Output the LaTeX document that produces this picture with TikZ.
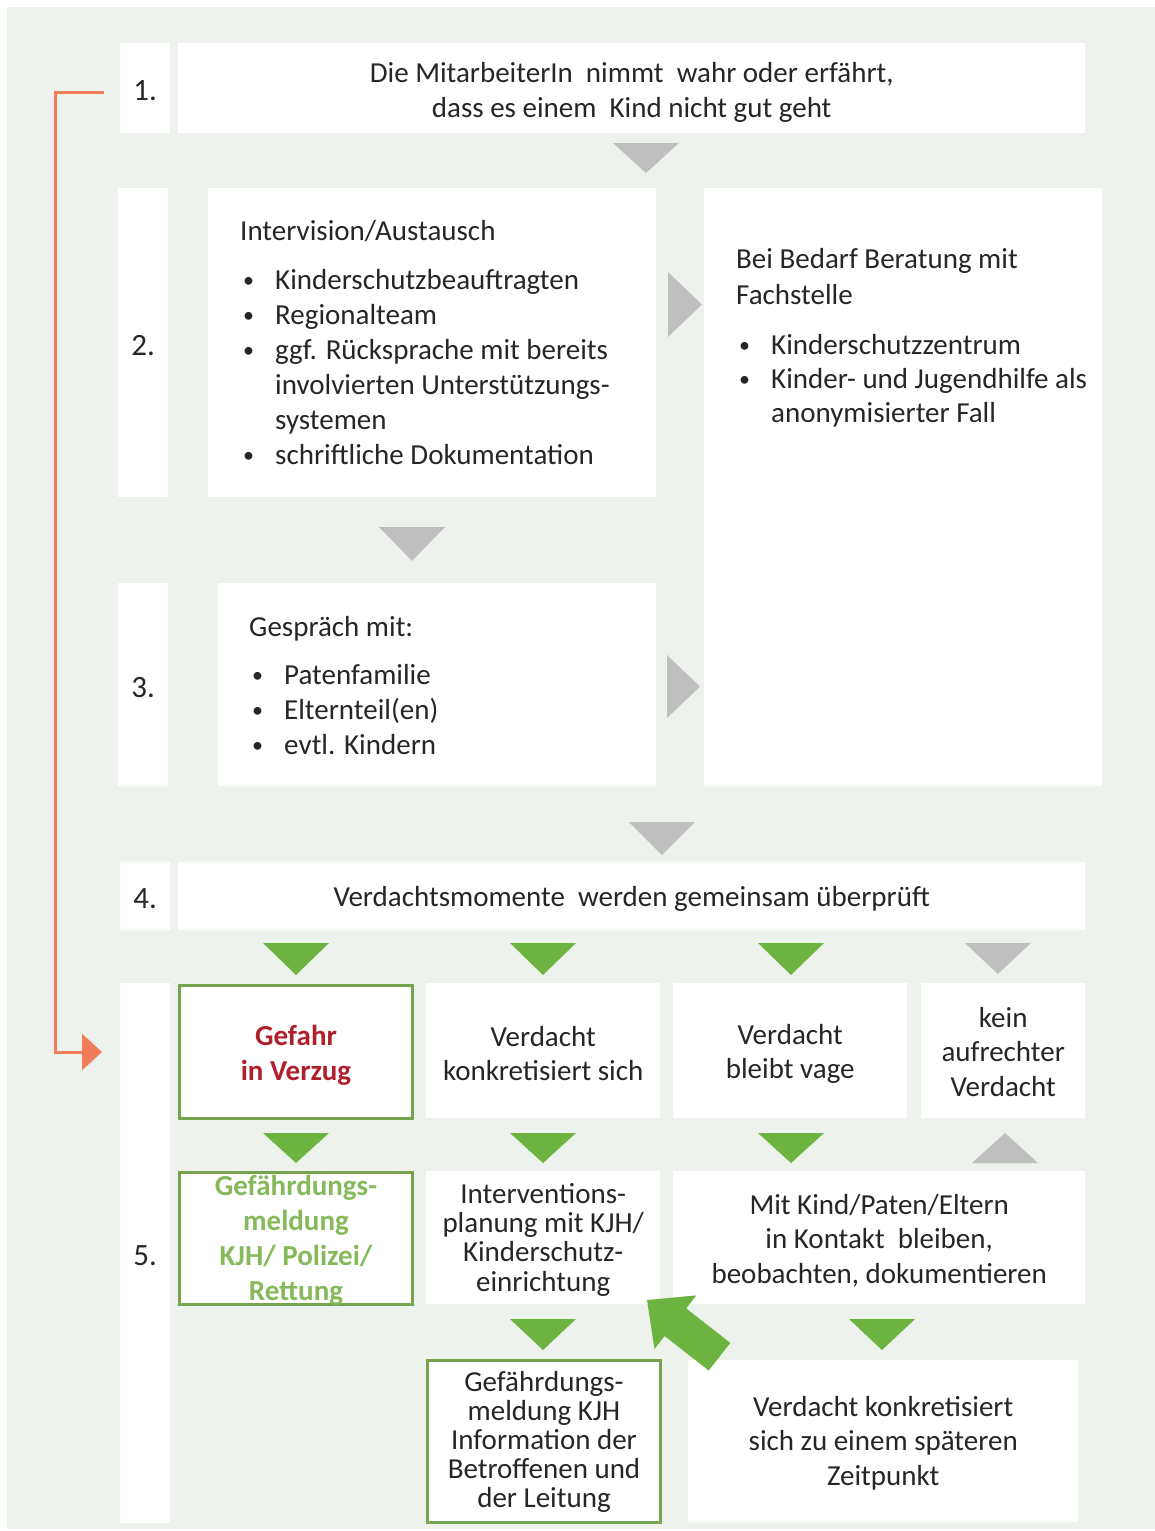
\documentclass[tikz,border=0pt]{standalone}
\usepackage{fontspec}
\setmainfont{Carlito}
\usetikzlibrary{arrows.meta}
\definecolor{bg}{HTML}{EDF2EC}
\definecolor{tri}{HTML}{BFBFBF}
\definecolor{grn}{HTML}{6DB33F}
\definecolor{grnline}{HTML}{76A44E}
\definecolor{grntxt}{HTML}{86B95A}
\definecolor{redtxt}{HTML}{B0202C}
\definecolor{orng}{HTML}{EF7D5A}
\definecolor{txt}{HTML}{262626}
\newcommand\tdown[4]{\fill[#4] (#1-33,#2) -- (#1+33,#2) -- (#1,#2+#3) -- cycle;}
\newcommand\tup[4]{\fill[#4] (#1-33,#2) -- (#1+33,#2) -- (#1,#2-#3) -- cycle;}
\newcommand\tright[4]{\fill[tri] (#1,#2) -- (#1,#3) -- (#1+#4,#2/2+#3/2) -- cycle;}
\newcommand\bul{\hspace*{3pt}\makebox[32pt][l]{\raisebox{1.5pt}{\fontsize{22}{22}\selectfont •}}}
\newcommand\cont{\hspace*{35pt}}
\begin{document}
\begin{tikzpicture}[x=1pt,y=-1pt,
  box/.style={fill=white, draw=none, inner sep=0pt, anchor=north west},
  gbox/.style={box, draw=grnline, line width=3pt},
  ctext/.style={text=txt, align=center, inner sep=0pt, font=\fontsize{29}{34.5}\selectfont},
  numtxt/.style={text=txt, font=\fontsize{31}{34}\selectfont, inner sep=0pt},
  listtxt/.style={text=txt, align=left, anchor=base west, inner sep=0pt,
    font=\fontsize{29}{35}\selectfont},
]
\useasboundingbox (0,0) rectangle (1155,1531);
\fill[white] (0,0) rectangle (1155,1531);
\fill[bg] (7,7) rectangle (1155,1529);

% number cells
\node[box, minimum width=50pt, minimum height=90pt] (n1) at (120,43) {};
\node[box, minimum width=50pt, minimum height=309pt] (n2) at (118,188) {};
\node[box, minimum width=50pt, minimum height=203pt] (n3) at (118,583) {};
\node[box, minimum width=50pt, minimum height=68pt] (n4) at (120,862) {};
\node[box, minimum width=50pt, minimum height=540pt] (n5) at (120,983) {};
\node[numtxt] (l1) at ([yshift=-2pt]n1.center) {1.};
\node[numtxt] (l2) at ([yshift=-3pt]n2.center) {2.};
\node[numtxt] (l3) at ([yshift=-3pt]n3.center) {3.};
\node[numtxt] (l4) at ([yshift=-2pt]n4.center) {4.};
\node[numtxt] (l5) at ([yshift=-2pt]n5.center) {5.};

% row 1
\node[box, minimum width=907pt, minimum height=90pt] (b1) at (178,43) {};
\node[ctext] (b1t) at ([yshift=-4pt]b1.center)
  {Die MitarbeiterIn\ \ nimmt\ \ wahr oder erfährt,\\dass es einem\ \ Kind nicht gut geht};

% row 2
\node[box, minimum width=448pt, minimum height=309pt] (b2) at (208,188) {};
\node[listtxt] (t2) at (240,464) {Intervision/Austausch\\[14pt]
  \bul Kinderschutzbeauftragten\\
  \bul Regionalteam\\
  \bul ggf. Rücksprache mit bereits\\
  \cont involvierten Unterstützungs-\\
  \cont systemen\\
  \bul schriftliche Dokumentation};
\node[box, minimum width=398pt, minimum height=598pt] (fs) at (704,188) {};
\node[listtxt] (tfs) at (736,422) {Bei Bedarf Beratung mit\\[1pt] Fachstelle\\[15pt]
  \bul Kinderschutzzentrum\\[-1pt]
  \bul Kinder- und Jugendhilfe als\\[-1pt]
  \cont anonymisierter Fall};

% row 3
\node[box, minimum width=438pt, minimum height=203pt] (b3) at (218,583) {};
\node[listtxt] (t3) at (249,754) {Gespräch mit:\\[13pt]
  \bul Patenfamilie\\
  \bul Elternteil(en)\\
  \bul evtl. Kindern};

% row 4
\node[box, minimum width=907pt, minimum height=68pt] (b4) at (178,862) {};
\node[ctext] (b4t) at ([yshift=-3pt]b4.center) {Verdachtsmomente\ \ werden gemeinsam überprüft};

% row 5a
\node[gbox, minimum width=233pt, minimum height=133pt] (gefahr) at (178,984) {};
\node[ctext, text=redtxt, font=\fontsize{29}{35}\selectfont\bfseries] (gefahrt) at ([yshift=-3pt]gefahr.center) {Gefahr\\in Verzug};
\node[box, minimum width=234pt, minimum height=135pt] (vk) at (426,983) {};
\node[ctext] (vkt) at ([yshift=-3pt]vk.center) {Verdacht\\konkretisiert sich};
\node[box, minimum width=234pt, minimum height=135pt] (vv) at (673,983) {};
\node[ctext] (vvt) at ([yshift=-3pt]vv.center) {Verdacht\\bleibt vage};
\node[box, minimum width=164pt, minimum height=135pt] (kv) at (921,983) {};
\node[ctext] (kvt) at ([yshift=-1pt]kv.center) {kein\\aufrechter\\Verdacht};

% row 5b
\node[gbox, minimum width=233pt, minimum height=132pt] (gm) at (178,1171) {};
\node[ctext, text=grntxt, font=\fontsize{29}{35}\selectfont\bfseries] (gmt) at ([yshift=-2pt]gm.center) {Gefährdungs-\\meldung\\KJH/ Polizei/\\Rettung};
\node[box, minimum width=234pt, minimum height=133pt] (ip) at (426,1171) {};
\node[ctext, font=\fontsize{29}{29.3}\selectfont] (ipt) at ([yshift=-2pt]ip.center) {Interventions-\\planung mit KJH/\\Kinderschutz-\\einrichtung};
\node[box, minimum width=412pt, minimum height=133pt] (mk) at (673,1171) {};
\node[ctext] (mkt) at ([yshift=-3pt]mk.center) {Mit Kind/Paten/Eltern\\in Kontakt\ \ bleiben,\\beobachten, dokumentieren};

% row 5c
\node[gbox, minimum width=233pt, minimum height=162pt] (gk) at (426,1359) {};
\node[ctext, font=\fontsize{29}{29}\selectfont] (gkt) at (gk.center) {Gefährdungs-\\meldung KJH\\Information der\\Betroffenen und\\der Leitung};
\node[box, minimum width=390pt, minimum height=162pt] (sp) at (688,1360) {};
\node[ctext] (spt) at ([yshift=-2pt]sp.center) {Verdacht konkretisiert\\sich zu einem späteren\\Zeitpunkt};

% chevrons
\tdown{646}{143}{30}{tri}
\tright{668}{272}{337}{34}
\tdown{412}{527}{34}{tri}
\tright{667}{655}{718}{33}
\tdown{662}{822}{33}{tri}
\tdown{296}{943}{32}{grn}
\tdown{543}{943}{32}{grn}
\tdown{791}{943}{32}{grn}
\tdown{998}{943}{31}{tri}
\tdown{296}{1133}{30}{grn}
\tdown{543}{1133}{30}{grn}
\tdown{791}{1133}{30}{grn}
\tup{1005}{1163}{30}{tri}
\tdown{543}{1319}{31}{grn}
\tdown{882}{1319}{31}{grn}

% big green arrow from sp to ip
\fill[grn] (647,1300) -- (696.3,1295.4) -- (686.2,1308.4) -- (730.3,1342.9)
  -- (708.7,1370.5) -- (664.6,1336.0) -- (654.5,1349.0) -- cycle;

% orange connector
\coordinate (o1) at ([shift={(-16,4)}]n1.west);
\coordinate (o5p) at (n5.west |- gefahr.west);
\coordinate (o5) at ([xshift=-18pt]o5p);
\draw[orng, line width=3pt, -{Triangle[length=20pt,width=36pt]}]
  (o1) -- ++(-49,0) |- (o5);
\end{tikzpicture}
\end{document}
